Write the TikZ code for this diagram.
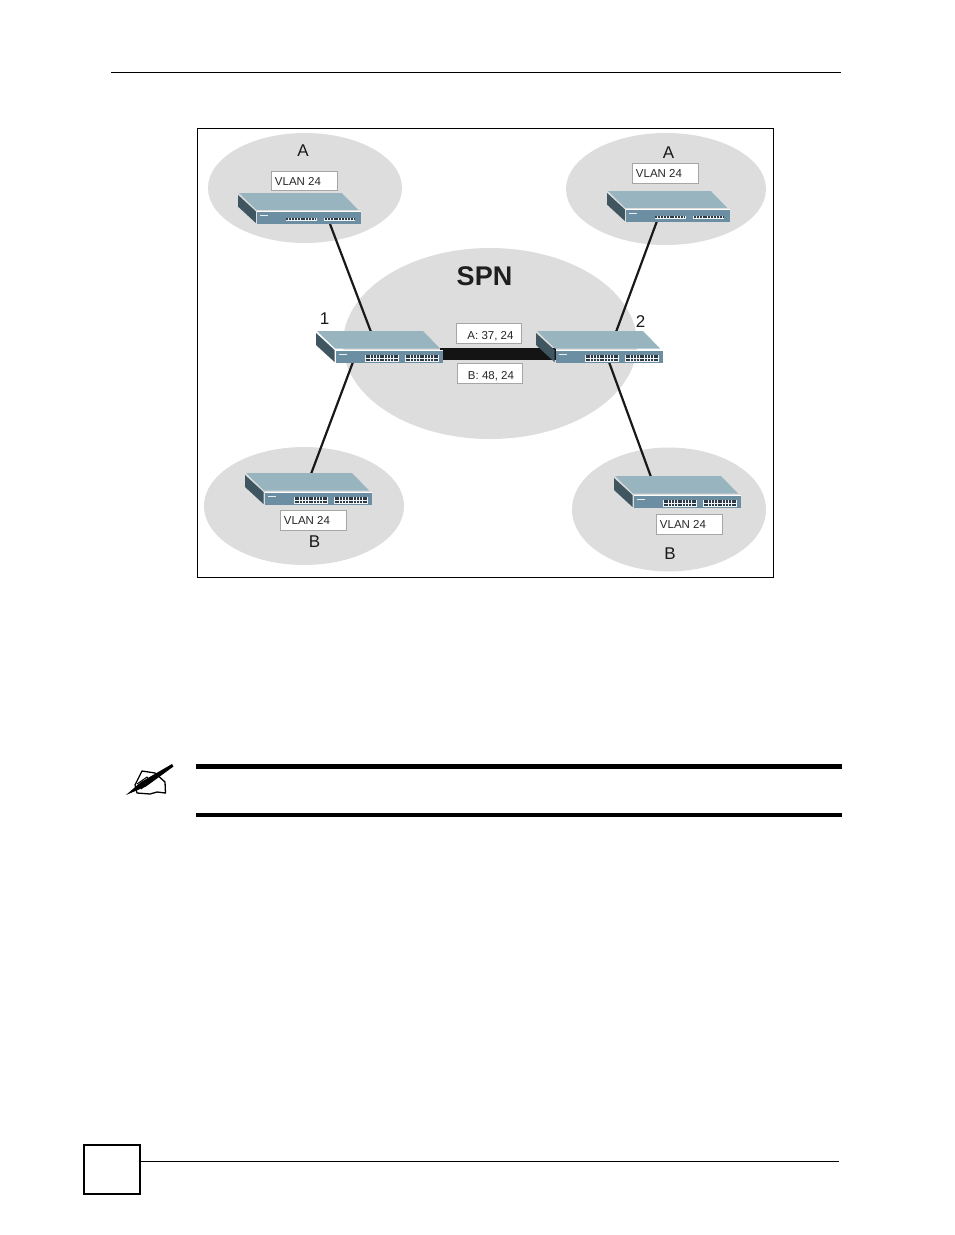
\documentclass[tikz,border=0pt]{standalone}
\usepackage{fontspec}
\setmainfont{Liberation Sans}
\definecolor{cloud}{HTML}{DDDDDD}
\definecolor{swtop}{HTML}{97B4BF}
\definecolor{swfront}{HTML}{6C8EA2}
\definecolor{swside}{HTML}{3F5661}
\definecolor{port}{HTML}{2F3B44}
\tikzset{
  cloudshape/.style={fill=cloud,draw=none},
  vlantag/.style={draw=black!35,line width=.6pt,fill=white,minimum width=66pt,minimum height=19.5pt,inner sep=0pt,font=\fontsize{11.5}{12}\selectfont,text=black!85},
  biglabel/.style={font=\fontsize{17}{18}\selectfont,inner sep=0pt,text=black!90},
  netlink/.style={line width=2.2pt,draw=black!90},
  pagerule/.style={draw=black,line width=.8pt},
  notebar/.style={fill=black,draw=none},
  pics/switch/.style={code={
    \fill[swtop] (1,0) -- (107,0) -- (124,17.5) -- (19,17.5) -- cycle;
    \fill[swside] (0,2) -- (18.5,19) -- (18.5,31) -- (0,14) -- cycle;
    \fill[swfront] (20,19.5) -- (127,19.5) -- (127,32) -- (20,32) -- cycle;
    \draw[white,line width=.7pt] (20,19) -- (127,19);
    \fill[white!85!swfront] (22.5,22.5) rectangle (31,24);
    \foreach \gx in {49,89}{
      \ifnum#1=2
        \fill[white!90!swfront] (\gx,23.5) rectangle (\gx+34,30.5);
        \draw[port,line width=2.4pt,dash pattern=on 2pt off .8pt] (\gx+.5,25.3) -- (\gx+33.5,25.3);
        \draw[port,line width=2.4pt,dash pattern=on 2pt off .8pt] (\gx+.5,28.8) -- (\gx+33.5,28.8);
      \else
        \fill[white!90!swfront] (\gx,25.5) rectangle (\gx+32,29);
        \draw[port,line width=2.2pt,dash pattern=on 2pt off .9pt] (\gx+.5,27.2) -- (\gx+31.5,27.2);
      \fi
    }
  }},
  x=1pt,y=-1pt
}
\begin{document}
\begin{tikzpicture}
\useasboundingbox (0,0) rectangle (954,1235);
% page furniture
\coordinate (hl) at (111,72); \coordinate (hr) at (841,72);
\draw[pagerule] (hl) -- (hr);
\coordinate (fl) at (140,1161); \coordinate (fr) at (839,1161);
\draw[pagerule] (fl) -- (fr);
\draw[black,line width=1.6pt] (84,1145) rectangle (140,1194);
% frame
\draw[black,line width=1pt] (197,128) rectangle (773,577);
% clouds
\fill[cloudshape] (305,188) ellipse [x radius=97,y radius=55];
\fill[cloudshape] (666,189) ellipse [x radius=100,y radius=56];
\fill[cloudshape] (490,343.5) ellipse [x radius=147,y radius=95.5];
\fill[cloudshape] (304,506) ellipse [x radius=100,y radius=59];
\fill[cloudshape] (669,509.5) ellipse [x radius=97,y radius=62];
% connector ends
\coordinate (al) at (330,224); \coordinate (alin) at (371,332);
\coordinate (ar) at (657,221); \coordinate (arin) at (616,332);
\coordinate (bl) at (311,474); \coordinate (blin) at (353,362);
\coordinate (br) at (651,477); \coordinate (brin) at (609,362);
\draw[netlink] (al) -- (alin);
\draw[netlink] (ar) -- (arin);
\draw[netlink] (bl) -- (blin);
\draw[netlink] (br) -- (brin);
% trunk
\coordinate (tl) at (440,354); \coordinate (tr) at (556,354);
\draw[black!92,line width=12pt] (tl) -- (tr);
% switches
\pic[scale=.97] (swal) at (238,193) {switch=1};
\pic[scale=.97] (swar) at (607,191) {switch=1};
\pic (swone) at (316,331) {switch=2};
\pic (swtwo) at (536,331) {switch=2};
\pic (swbl) at (245,473) {switch=2};
\pic (swbr) at (614,476) {switch=2};
% labels
\node[vlantag] (t1) at (304,181) {\hspace*{-12pt}VLAN 24};
\node[vlantag] (t2) at (665,173.5) {\hspace*{-12pt}VLAN 24};
\node[vlantag] (t3) at (313,520.5) {\hspace*{-12pt}VLAN 24};
\node[vlantag] (t4) at (689,524.5) {\hspace*{-12pt}VLAN 24};
\node[vlantag,minimum width=65pt,text height=11pt,text depth=0pt] (t5) at (488.5,333.5) {\hspace*{4pt}A: 37, 24};
\node[vlantag,minimum width=65pt,text height=11pt,text depth=0pt] (t6) at (489.5,373.5) {\hspace*{3pt}B: 48, 24};
\node[biglabel] (na) at (303,150.5) {A};
\node[biglabel] (nb) at (668.5,152.5) {A};
\node[biglabel] (nc) at (314.5,541.5) {B};
\node[biglabel] (nd) at (670,553.5) {B};
\node[biglabel] (n1) at (324.5,319) {1};
\node[biglabel] (n2) at (640.5,322) {2};
\node[font=\fontsize{27}{28}\selectfont\bfseries,inner sep=0pt,text=black!88] (spn) at (484.5,276) {SPN};
% note
\fill[notebar] (196,764) rectangle (842,769);
\fill[notebar] (196,813) rectangle (842,817);
\draw[black,line width=1.3pt,line join=round] (142,771) -- (155,773) -- (165,782) -- (165.5,793) -- (157,792) -- (150,794) -- (137,793) -- (135,785) -- cycle;
\draw[black,line width=1pt] (137,784) -- (147,777) -- (150,781) -- (141,789);
\fill[black] (172,764) -- (173.5,766.5) -- (146,786.5) -- (126,795) -- (141,782) -- cycle;
\end{tikzpicture}
\end{document}
